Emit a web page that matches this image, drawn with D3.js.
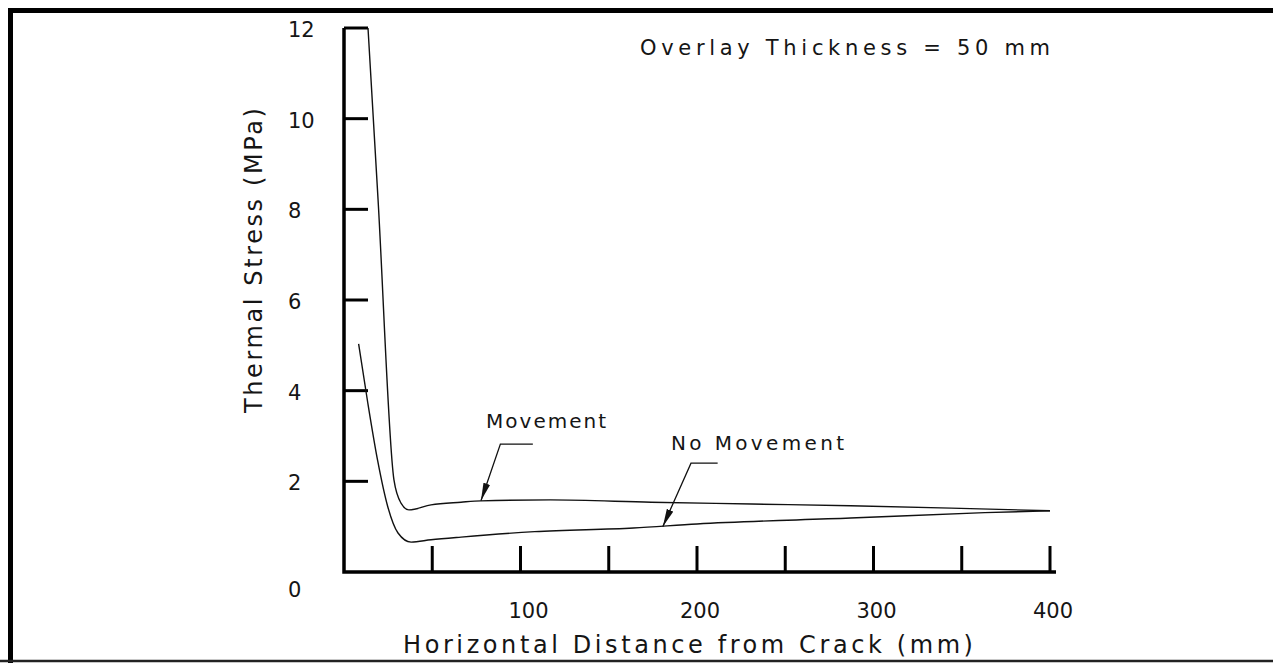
<!DOCTYPE html>
<html lang="en">
<head>
    <meta charset="utf-8">
    <title>Thermal Stress</title>
    <script src="https://d3js.org/d3.v7.min.js"></script>
    <style>
        body { margin: 0; background: white; }
        text { font-family: "DejaVu Sans", "Liberation Sans", sans-serif; fill: #151515; }
    </style>
</head>
<body>
<div id="chart"></div>
<script>
    // values (distance in mm, stress in MPa)
    var movementX = [13.6, 19.3, 28.3, 32.3, 36.8, 49.3, 66.3, 77.6, 117, 174, 231, 287, 344, 400];
    var movementY = [12.0, 8.21, 2.03, 1.52, 1.37, 1.48, 1.54, 1.57, 1.59, 1.54, 1.50, 1.46, 1.41, 1.35];
    var noMoveX = [8.3, 13.4, 19.1, 24.8, 30.6, 38, 49.3, 66.3, 108, 164, 200, 287, 363, 400];
    var noMoveY = [5.03, 3.75, 2.45, 1.44, 0.86, 0.66, 0.71, 0.77, 0.89, 0.97, 1.06, 1.19, 1.31, 1.35];
    var xTicks = [50, 100, 150, 200, 250, 300, 350, 400];
    var xTickLabels = [100, 200, 300, 400];
    var yTicks = [2, 4, 6, 8, 10, 12];
    var yTickLabels = [0, 2, 4, 6, 8, 10, 12];
    // annotation: label, arrow tip, elbow, end of leader (data coords)
    var notes = [
        { label: "Movement", tip: [77.6, 1.57], elbow: [88.6, 2.82], end: [107, 2.82], text: [80.5, 3.18], len: 120 },
        { label: "No  Movement", tip: [180.6, 1.0], elbow: [196.6, 2.40], end: [211.7, 2.40], text: [185.3, 2.69], len: 173 }
    ];

    var W = 1273, H = 663;
    var svg = d3.select("#chart").append("svg")
        .attr("width", W)
        .attr("height", H);

    var x = d3.scaleLinear().domain([0, 400]).range([344, 1050]);
    var y = d3.scaleLinear().domain([0, 12]).range([572, 28]);

    svg.append("defs").append("marker")
        .attr("id", "arrow")
        .attr("viewBox", "0 -4 18 8")
        .attr("refX", 18)
        .attr("refY", 0)
        .attr("markerUnits", "userSpaceOnUse")
        .attr("markerWidth", 18)
        .attr("markerHeight", 8)
        .attr("orient", "auto")
        .append("path")
        .attr("d", "M0,-3.5L18,0L0,3.5Z")
        .attr("fill", "#111");

    // frame round the figure
    svg.append("line").attr("x1", 10.5).attr("x2", 10.5).attr("y1", 8).attr("y2", H)
        .attr("stroke", "#000").attr("stroke-width", 5);
    svg.append("line").attr("x1", 8).attr("x2", W).attr("y1", 10.5).attr("y2", 10.5)
        .attr("stroke", "#000").attr("stroke-width", 5);
    svg.append("line").attr("x1", 0).attr("x2", W).attr("y1", 661).attr("y2", 661)
        .attr("stroke", "#222").attr("stroke-width", 2.5);

    // axes
    svg.append("path")
        .attr("d", "M" + x(0) + "," + y(12) + "V" + y(0) + "H" + (x(400) + 6))
        .attr("fill", "none").attr("stroke", "#000").attr("stroke-width", 3.5);

    svg.selectAll(".ytick").data(yTicks).enter().append("line")
        .attr("x1", x(0)).attr("x2", x(0) + 24)
        .attr("y1", function(d) { return y(d); })
        .attr("y2", function(d) { return y(d); })
        .attr("stroke", "#000").attr("stroke-width", 3);

    svg.selectAll(".xtick").data(xTicks).enter().append("line")
        .attr("x1", function(d) { return x(d); })
        .attr("x2", function(d) { return x(d); })
        .attr("y1", y(0)).attr("y2", y(0) - 26)
        .attr("stroke", "#000").attr("stroke-width", 3);

    svg.selectAll(".ylab").data(yTickLabels).enter().append("text")
        .attr("x", 288)
        .attr("y", function(d) { return y(d) + (d === 0 ? 25 : 9); })
        .style("font-size", "21px")
        .text(function(d) { return d; });

    svg.selectAll(".xlab").data(xTickLabels).enter().append("text")
        .attr("x", function(d) { return x(d) + (d === 100 ? 8 : 3); })
        .attr("y", 618)
        .attr("text-anchor", "middle")
        .style("font-size", "21px")
        .text(function(d) { return d; });

    // titles
    svg.append("text")
        .attr("x", 403).attr("y", 653)
        .attr("textLength", 570).attr("lengthAdjust", "spacing")
        .style("font-size", "24px")
        .text("Horizontal Distance from Crack (mm)");

    svg.append("text")
        .attr("transform", "translate(262,413) rotate(-90)")
        .attr("textLength", 305).attr("lengthAdjust", "spacing")
        .style("font-size", "24px")
        .text("Thermal Stress (MPa)");

    svg.append("text")
        .attr("x", 640).attr("y", 55)
        .attr("textLength", 410).attr("lengthAdjust", "spacing")
        .style("font-size", "21px")
        .text("Overlay Thickness  =  50  mm");

    // curves
    var line = d3.line()
        .x(function(d) { return x(d[0]); })
        .y(function(d) { return y(d[1]); })
        .curve(d3.curveMonotoneX);

    svg.append("path")
        .datum(d3.zip(movementX, movementY))
        .attr("d", line)
        .attr("fill", "none").attr("stroke", "#111").attr("stroke-width", 1.4);

    svg.append("path")
        .datum(d3.zip(noMoveX, noMoveY))
        .attr("d", line)
        .attr("fill", "none").attr("stroke", "#111").attr("stroke-width", 1.4);

    // annotations with leader arrows
    notes.forEach(function(n) {
        svg.append("path")
            .attr("d", "M" + x(n.end[0]) + "," + y(n.end[1]) +
                "L" + x(n.elbow[0]) + "," + y(n.elbow[1]) +
                "L" + x(n.tip[0]) + "," + y(n.tip[1]))
            .attr("fill", "none").attr("stroke", "#111").attr("stroke-width", 1.3)
            .attr("marker-end", "url(#arrow)");
        svg.append("text")
            .attr("x", x(n.text[0])).attr("y", y(n.text[1]))
            .attr("textLength", n.len).attr("lengthAdjust", "spacing")
            .style("font-size", "20px")
            .text(n.label);
    });
</script>
</body>
</html>
